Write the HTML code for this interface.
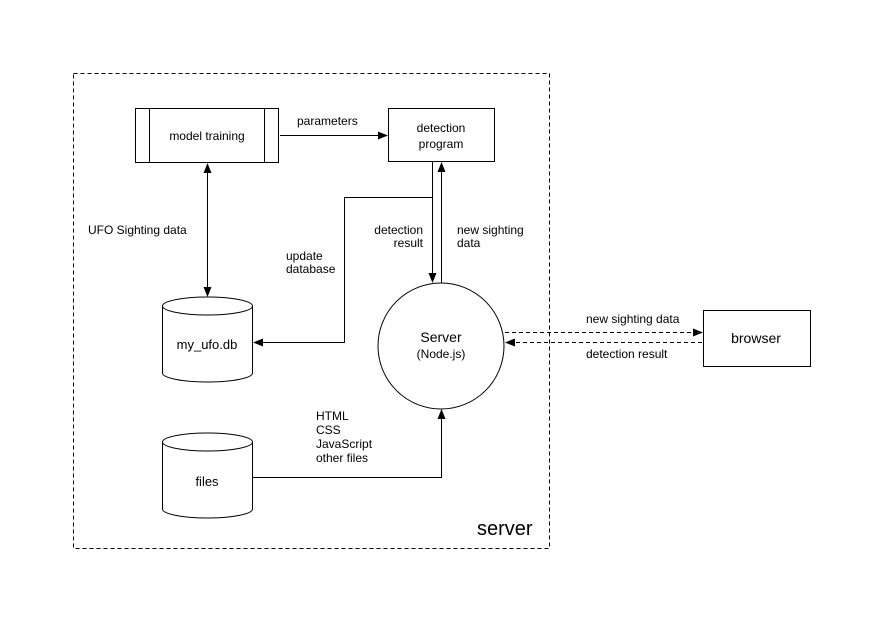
<!DOCTYPE html>
<html><head><meta charset="utf-8"><style>
body{margin:0;background:#fff}
svg text{font-family:"Liberation Sans",sans-serif;font-size:12px;fill:#000}
</style></head><body>
<svg width="882" height="621" viewBox="0 0 882 621" xmlns="http://www.w3.org/2000/svg">
<defs>
<marker id="a" markerWidth="10" markerHeight="8" refX="9" refY="4" orient="auto" markerUnits="userSpaceOnUse">
<path d="M0,0 L10,4 L0,8 z" fill="#000"/></marker>
<marker id="s" markerWidth="10" markerHeight="8" refX="1" refY="4" orient="auto" markerUnits="userSpaceOnUse">
<path d="M10,0 L0,4 L10,8 z" fill="#000"/></marker>
</defs>
<g fill="none" stroke="#000" stroke-width="1">
<rect x="73.5" y="73.5" width="476" height="475" stroke-dasharray="4,3"/>
<rect x="135.5" y="108.5" width="143" height="54" fill="#fff"/>
<line x1="149.5" y1="108" x2="149.5" y2="162"/>
<line x1="264.5" y1="108" x2="264.5" y2="162"/>
<rect x="388.5" y="108.5" width="106" height="53" fill="#fff"/>
<line x1="280" y1="135.5" x2="387" y2="135.5" marker-end="url(#a)"/>
<line x1="207.5" y1="164" x2="207.5" y2="296" marker-start="url(#s)" marker-end="url(#a)"/>
<line x1="432.5" y1="162" x2="432.5" y2="282" marker-end="url(#a)"/>
<line x1="441.5" y1="283" x2="441.5" y2="163" marker-end="url(#a)"/>
<polyline points="432.5,197.5 344.5,197.5 344.5,342.5 254,342.5" marker-end="url(#a)"/>
<polyline points="253,477.5 441.5,477.5 441.5,410" marker-end="url(#a)"/>
<circle cx="441" cy="346" r="63"/>
<path d="M162.5,306 L162.5,373 A45,9 0 0 0 252.5,373 L252.5,306 A45,9 0 0 0 162.5,306 A45,9 0 0 0 252.5,306"/>
<path d="M162.5,442 L162.5,509 A45,9 0 0 0 252.5,509 L252.5,442 A45,9 0 0 0 162.5,442 A45,9 0 0 0 252.5,442"/>
<rect x="703.5" y="310.5" width="107" height="56"/>
<line x1="505" y1="332.5" x2="702" y2="332.5" stroke-dasharray="4,3" marker-end="url(#a)"/>
<line x1="702" y1="342.5" x2="506" y2="342.5" stroke-dasharray="4,3" marker-end="url(#a)"/>
</g>
<text x="207" y="140" text-anchor="middle">model training</text>
<text x="441" y="132" text-anchor="middle">detection</text>
<text x="441" y="148" text-anchor="middle">program</text>
<text x="297" y="125">parameters</text>
<text x="88" y="234">UFO Sighting data</text>
<text x="423" y="234" text-anchor="end">detection</text>
<text x="423" y="247" text-anchor="end">result</text>
<text x="457" y="234">new sighting</text>
<text x="457" y="247">data</text>
<text x="286" y="260">update</text>
<text x="286" y="273">database</text>
<text x="207" y="349" text-anchor="middle" style="font-size:13px">my_ufo.db</text>
<text x="207" y="486" text-anchor="middle" style="font-size:13px">files</text>
<text x="441" y="342" text-anchor="middle" style="font-size:14px">Server</text>
<text x="441" y="358" text-anchor="middle">(Node.js)</text>
<text x="316" y="420">HTML</text>
<text x="316" y="434">CSS</text>
<text x="316" y="448">JavaScript</text>
<text x="316" y="462">other files</text>
<text x="586" y="323">new sighting data</text>
<text x="586" y="358">detection result</text>
<text x="756" y="343" text-anchor="middle" style="font-size:14px">browser</text>
<text x="477" y="535" style="font-size:20px">server</text>
</svg>
</body></html>
